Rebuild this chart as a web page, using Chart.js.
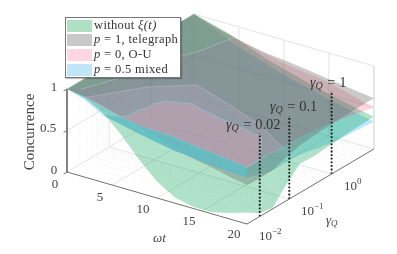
<!DOCTYPE html>
<html>
<head>
<meta charset="utf-8">
<style>
  html, body { margin: 0; padding: 0; background: #fff; }
  canvas { display: block; }
</style>
<script src="https://cdn.jsdelivr.net/npm/chart.js@4/dist/chart.umd.min.js"></script>
</head>
<body>
<canvas id="chart" width="397" height="254"></canvas>
<script>
// Ejes: omega t y log10(gamma_Q)
const wt = [0, 2, 4, 6, 8, 10, 12, 14, 16, 18, 20];
const lgQ = [-2, -1.7, -1.4, -1.1, -0.75, -0.4, 0, 0.5, 1];

// Concurrencia en gamma_Q = 10^-2 (borde frontal), por wt
const greenFront = [1, 0.95, 0.84, 0.64, 0.4, 0.2, 0.07, 0.02, 0.02, 0.07, 0.14];
const grayFront = [1, 0.97, 0.92, 0.86, 0.8, 0.73, 0.65, 0.6, 0.56, 0.51, 0.47];
const pinkFront = [1, 0.97, 0.91, 0.85, 0.81, 0.8, 0.79, 0.76, 0.735, 0.71, 0.68];
const blueFront = [1, 0.93, 0.81, 0.76, 0.71, 0.67, 0.63, 0.61, 0.59, 0.57, 0.56];

// Concurrencia en wt = 20 (borde derecho), por lgQ
const greenEnd = [0.14, 0.04, 0.01, 0.18, 0.35, 0.34, 0.36, 0.38, 0.39];
const grayEnd = [0.47, 0.46, 0.47, 0.52, 0.57, 0.59, 0.6, 0.61, 0.61];
const pinkEnd = [0.68, 0.69, 0.69, 0.68, 0.67, 0.65, 0.62, 0.56, 0.5];
const blueEnd = [0.56, 0.5, 0.46, 0.47, 0.46, 0.42, 0.37, 0.35, 0.33];

// Concurrencia en gamma_Q = 10^1 (borde trasero), por wt
const greenBack = [1, 0.94, 0.88, 0.8, 0.71, 0.65, 0.59, 0.53, 0.48, 0.43, 0.39];
const grayBack = [1, 0.93, 0.87, 0.82, 0.78, 0.76, 0.73, 0.7, 0.67, 0.64, 0.61];
const pinkBack = [1, 0.93, 0.87, 0.82, 0.77, 0.72, 0.69, 0.66, 0.62, 0.56, 0.5];
const blueBack = [1, 0.9, 0.8, 0.72, 0.65, 0.58, 0.52, 0.47, 0.42, 0.37, 0.33];

// Curvas de cruce entre superficies: [wt, lgQ, concurrencia]
const greenOverGray = [[4.5, 1, 0.86], [4, 0.23, 0.9], [2.6, -0.24, 0.9], [1.25, -1.18, 0.9], [0, -1.68, 0.9]];
const pinkUnderGray = [[19.8, -1.05, 0.6], [16.85, -1.02, 0.8], [12.09, -0.72, 0.8], [7.1, -0.44, 0.8], [3.62, -0.88, 0.8], [0.48, -1.61, 0.8]];
const pinkOverGray = [[18.5, -1.33, 0.8], [12.6, -1.14, 0.8], [8.85, -0.98, 0.8], [8.1, -1.05, 0.8], [6.88, -1.1, 0.8], [6.2, -1.29, 0.8], [6.27, -1.44, 0.8], [5.85, -1.57, 0.8], [5.9, -1.76, 0.8]];

// Etiquetas y ticks
const zTicks = [0, 0.5, 1];
const wtTicks = [0, 5, 10, 15, 20];
const lgTicks = [-2, -1, 0];
const minorTicks = [2, 3, 4, 5, 6, 7, 8, 9];
const gammaMarks = [0.02, 0.1, 1];
const legendLabels = ['without', 'p = 1, telegraph', 'p = 0, O-U', 'p = 0.5 mixed'];

// Proyeccion ortografica de la caja 3D al plano del canvas
function project(t, lg, c) {
    const l = lg + 2;
    return { x: 67 + 9 * t + 42.3 * l, y: 172 + 2.6 * t - 25 * l - 83 * c };
}

function polyline(points) {
    return points.map(p => project(p[0], p[1], p[2]));
}

// Contorno completo de una superficie a partir de sus tres bordes
function outline(front, end, back) {
    const pts = [];
    wt.forEach((t, i) => pts.push([t, -2, front[i]]));
    lgQ.forEach((l, i) => pts.push([20, l, end[i]]));
    for (let i = wt.length - 1; i >= 0; i--) pts.push([wt[i], 1, back[i]]);
    pts.push(pts[0]);
    return polyline(pts);
}

function frontPart(values, from, to) {
    const pts = [];
    for (let i = from; i <= to; i++) pts.push([wt[i], -2, values[i]]);
    return pts;
}

function endPart(values, from, to) {
    const pts = [];
    for (let i = from; i <= to; i++) pts.push([20, lgQ[i], values[i]]);
    return pts;
}

const datasets = [];

function addLine(points, color, width, dash) {
    datasets.push({
        data: points, showLine: true, borderColor: color, borderWidth: width,
        borderDash: dash || [], pointRadius: 0, fill: false, tension: 0
    });
}

function addArea(points, color, stroke) {
    datasets.push({
        data: points, showLine: true, backgroundColor: color, fill: 'shape',
        borderColor: stroke || 'rgba(0,0,0,0)', borderWidth: stroke ? 1 : 0, pointRadius: 0, tension: 0
    });
}

// Rejilla de las paredes y el suelo
const gridColor = 'rgba(225,225,225,0.9)';
const minorColor = 'rgba(225,225,225,0.6)';
addLine(polyline([[0, 1, 0], [0, 1, 1], [20, 1, 1], [20, 1, 0], [0, 1, 0], [0, -2, 0]]), gridColor, 1);
addLine(polyline([[0, -2, 0.5], [0, 1, 0.5], [20, 1, 0.5]]), gridColor, 1);
wtTicks.slice(1, 4).forEach(t => {
    addLine(polyline([[t, -2, 0], [t, 1, 0], [t, 1, 1]]), gridColor, 1);
});
lgTicks.slice(1).forEach(l => {
    addLine(polyline([[20, l, 0], [0, l, 0], [0, l, 1]]), gridColor, 1);
});
[-2, -1, 0].forEach(dec => {
    minorTicks.forEach(m => {
        const l = dec + Math.log10(m);
        addLine(polyline([[20, l, 0], [0, l, 0], [0, l, 1]]), minorColor, 1, [1, 2]);
    });
});

// Superficies, de abajo hacia arriba
addArea(outline(blueFront, blueEnd, blueBack), 'rgba(0,160,240,0.25)');
addArea(outline(greenFront, greenEnd, greenBack), 'rgba(0,160,80,0.31)');
addArea(outline(pinkFront, pinkEnd, pinkBack), 'rgba(255,0,80,0.16)');
addArea(outline(grayFront, grayEnd, grayBack), 'rgba(100,100,100,0.34)');

// Zonas donde cambia la superficie visible
addArea(polyline([[0, -2, 1], [0, 1, 1]].concat(greenOverGray)), 'rgba(100,185,125,0.25)', 'rgba(190,195,190,0.5)');
addArea(polyline(pinkUnderGray.concat(frontPart(pinkFront, 1, 10).concat(endPart(pinkEnd, 0, 2)))), 'rgba(185,175,205,0.28)', 'rgba(195,175,195,0.6)');
addArea(polyline(frontPart(pinkFront, 3, 10).concat(endPart(pinkEnd, 0, 1), pinkOverGray, [[wt[3], -2, pinkFront[3]]])), 'rgba(245,170,190,0.28)', 'rgba(135,200,205,0.7)');
addArea(polyline(frontPart(pinkFront, 3, 10).concat(frontPart(blueFront, 2, 10).reverse(), [[wt[3], -2, pinkFront[3]]])), 'rgba(100,190,198,0.85)');

// Lineas punteadas de gamma_Q
gammaMarks.forEach(g => {
    addLine(polyline([[20, Math.log10(g), 0], [20, Math.log10(g), 1]]), '#111', 1.8, [1.8, 1.8]);
});

// Ejes
const axisColor = '#707070';
addLine(polyline([[0, -2, 1], [0, -2, 0], [20, -2, 0], [20, 1, 0]]), axisColor, 1);
zTicks.forEach(z => addLine(polyline([[0, -2, z], [0, -2.08, z]]), axisColor, 1));

// El primer dataset de la lista debe pintarse primero
datasets.forEach((d, i) => { d.order = datasets.length - i; });

const SERIF = '"Liberation Serif", serif';

function drawRuns(ctx, x, y, runs) {
    runs.forEach(r => {
        ctx.font = r[1] + ' ' + SERIF;
        ctx.fillText(r[0], x + (r[2] || 0), y + (r[3] || 0));
        x += ctx.measureText(r[0]).width + (r[2] || 0);
    });
}

const labelsPlugin = {
    id: 'labels',
    afterDraw(chart) {
        const ctx = chart.ctx;
        ctx.save();
        ctx.textBaseline = 'middle';
        ctx.fillStyle = '#444';

        // Ticks
        ctx.textAlign = 'center';
        ctx.font = '13px ' + SERIF;
        ctx.fillText('1', 54, 88);
        ctx.fillText('0.5', 48, 129);
        ctx.fillText('0', 54, 171);
        ctx.fillText('0', 55, 185);
        ctx.fillText('5', 100, 198);
        ctx.fillText('10', 143, 210);
        ctx.fillText('15', 189, 222);
        ctx.fillText('20', 234, 235);

        ctx.textAlign = 'left';
        drawRuns(ctx, 259, 237, [['10', '13px'], ['−2', '9px', 0, -5]]);
        drawRuns(ctx, 301, 212, [['10', '13px'], ['−1', '9px', 0, -5]]);
        drawRuns(ctx, 344, 187, [['10', '13px'], ['0', '9px', 0, -5]]);

        // Titulos de ejes
        drawRuns(ctx, 153, 239, [['ωt', 'italic 13px']]);
        drawRuns(ctx, 326, 221, [['γ', 'italic 13px'], ['Q', 'italic 9px', 0, 3]]);
        ctx.save();
        ctx.translate(30, 132);
        ctx.rotate(-Math.PI / 2);
        ctx.textAlign = 'center';
        ctx.font = '15px ' + SERIF;
        ctx.fillText('Concurrence', 0, 0);
        ctx.restore();

        // Etiquetas gamma_Q
        ctx.fillStyle = '#333';
        drawRuns(ctx, 226, 125, [['γ', 'italic 14px'], ['Q', 'italic 10px', 0, 3], [' = ' + gammaMarks[0], '14.5px', 1]]);
        drawRuns(ctx, 270, 107, [['γ', 'italic 14px'], ['Q', 'italic 10px', 0, 3], [' = ' + gammaMarks[1], '14.5px', 1]]);
        drawRuns(ctx, 310, 83, [['γ', 'italic 14px'], ['Q', 'italic 10px', 0, 3], [' = ' + gammaMarks[2], '14.5px', 1]]);

        // Leyenda
        ctx.shadowColor = 'rgba(0,0,0,0.25)';
        ctx.shadowOffsetX = 1;
        ctx.shadowOffsetY = 1;
        ctx.shadowBlur = 1;
        ctx.fillStyle = '#fff';
        ctx.fillRect(65, 17, 116, 61);
        ctx.shadowColor = 'transparent';
        ctx.strokeStyle = '#777';
        ctx.lineWidth = 1;
        ctx.strokeRect(65.5, 17.5, 115, 60);
        const swatches = ['#b0e0c4', '#c9c9c9', '#ffd6e2', '#bee6f7'];
        const rowY = [26, 40, 55, 70];
        swatches.forEach((c, i) => {
            ctx.fillStyle = c;
            ctx.fillRect(67, rowY[i] - 6, 25, 12);
        });
        ctx.fillStyle = '#333';
        ctx.letterSpacing = '0.35px';
        drawRuns(ctx, 94, rowY[0], [[legendLabels[0] + ' ', '12.5px'], ['ξ(t)', 'italic 12.5px']]);
        drawRuns(ctx, 94, rowY[1], [['p', 'italic 12.5px'], [legendLabels[1].slice(1), '12.5px']]);
        drawRuns(ctx, 94, rowY[2], [['p', 'italic 12.5px'], [legendLabels[2].slice(1), '12.5px']]);
        drawRuns(ctx, 94, rowY[3], [['p', 'italic 12.5px'], [legendLabels[3].slice(1), '12.5px']]);
        ctx.restore();
    }
};

new Chart(document.getElementById('chart').getContext('2d'), {
    type: 'scatter',
    data: { datasets: datasets },
    options: {
        responsive: false,
        animation: false,
        layout: { padding: 0 },
        plugins: { legend: { display: false }, tooltip: { enabled: false } },
        scales: {
            x: { type: 'linear', min: 0, max: 397, display: false },
            y: { type: 'linear', min: 0, max: 254, reverse: true, display: false }
        }
    },
    plugins: [labelsPlugin]
});
</script>
</body>
</html>
